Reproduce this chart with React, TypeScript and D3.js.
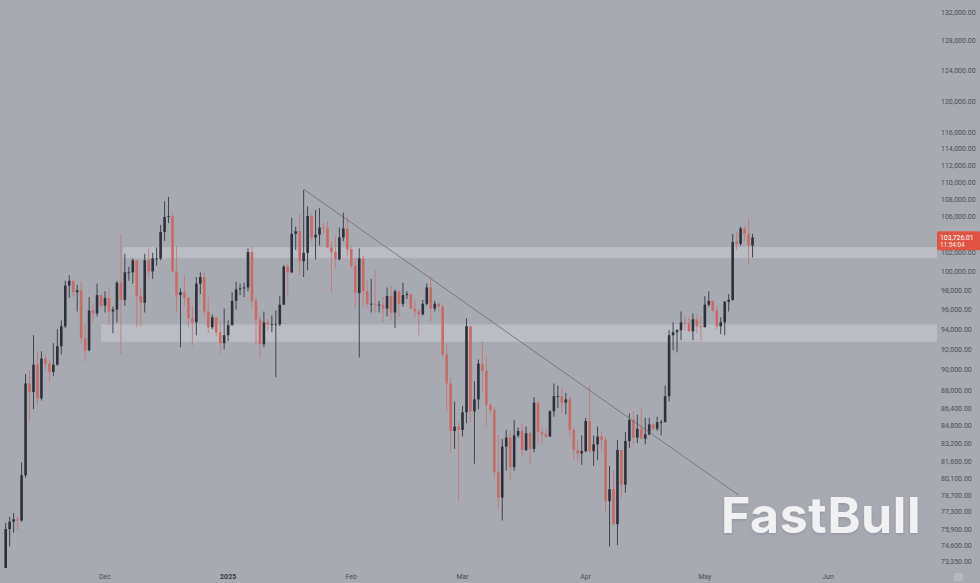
import React from "react";
import * as d3 from "d3";

const W = 980;
const H = 583;

// Daily BTC candles starting 2024-11-06 (values in thousands of USD)
const START_UTC = Date.UTC(2024, 10, 6);
const FIRST_OPEN_K = 69.4;
const closeK = [
  // Nov 6-30
  75.9, 76.5, 76.7, 76.6, 80.4, 88.7, 87.9, 90.5, 87.3, 91.1, 90.6, 89.8, 90.5, 92.3, 94.3, 98.5, 99.0, 97.8, 98.0, 93.1, 91.9, 95.9, 95.6, 97.5, 96.4,
  // Dec
  97.2, 95.8, 96.0, 98.8, 97.0, 99.9, 99.9, 101.2, 97.4, 96.7, 101.2, 100.0, 101.4, 101.4, 104.3, 106.0, 106.1, 100.0, 97.5, 97.8, 97.2, 95.1, 94.7, 98.7, 99.4, 95.8, 94.2, 95.2, 93.7, 92.6, 93.4,
  // Jan
  94.4, 96.9, 98.1, 98.2, 98.3, 102.1, 96.9, 95.0, 92.5, 94.7, 94.5, 94.5, 94.5, 96.5, 100.5, 99.9, 104.1, 104.4, 101.1, 102.0, 106.1, 103.7, 104.0, 104.8, 104.7, 102.6, 102.1, 101.3, 103.7, 104.7, 102.4,
  // Feb
  100.6, 97.7, 101.4, 97.9, 96.6, 96.6, 96.5, 96.5, 96.1, 97.4, 95.7, 97.9, 96.6, 97.5, 97.6, 96.1, 95.8, 95.5, 96.6, 98.3, 96.1, 96.6, 96.3, 91.5, 88.7, 84.3, 84.7, 84.4,
  // Mar
  86.0, 94.3, 86.1, 87.2, 90.6, 89.9, 86.7, 86.2, 80.7, 78.5, 82.9, 83.7, 81.1, 83.9, 84.3, 82.6, 84.1, 82.7, 86.9, 84.2, 84.0, 83.8, 86.1, 87.5, 87.5, 86.9, 87.2, 84.4, 82.6, 82.3, 82.5,
  // Apr
  85.2, 82.5, 83.1, 83.8, 83.5, 78.2, 79.2, 76.3, 82.6, 79.6, 83.4, 85.3, 83.7, 84.5, 83.6, 84.0, 84.9, 84.5, 85.1, 85.1, 87.5, 93.4, 93.7, 93.9, 94.7, 94.6, 93.8, 95.0, 94.3, 94.2,
  // May 1-13
  96.5, 96.9, 95.9, 94.3, 94.7, 96.8, 97.0, 103.2, 103.0, 104.7, 104.1, 102.8, 103.7,
];
const highK = [
  76.4, 76.9, 77.2, 76.9, 81.5, 89.6, 89.9, 93.4, 91.8, 91.8, 91.5, 91.0, 92.6, 94.0, 94.9, 99.0, 99.6, 99.0, 98.6, 98.9, 94.7, 97.3, 96.6, 98.7, 97.5,
  97.9, 98.2, 96.3, 99.0, 104.0, 101.9, 100.5, 101.4, 101.2, 98.2, 101.9, 102.5, 102.0, 102.6, 105.1, 107.8, 108.3, 106.5, 102.8, 98.2, 99.5, 97.3, 96.4, 99.4, 99.9, 99.9, 97.3, 95.5, 95.2, 94.9, 96.1,
  94.9, 97.8, 98.9, 98.7, 98.8, 102.5, 102.7, 97.3, 95.3, 95.8, 95.0, 95.4, 95.9, 97.4, 100.7, 100.8, 105.9, 104.9, 106.3, 109.1, 107.2, 106.3, 106.8, 107.0, 105.3, 105.5, 103.2, 103.8, 104.8, 106.5, 106.0,
  102.8, 101.5, 102.5, 101.7, 99.0, 99.2, 100.1, 96.9, 97.3, 98.3, 98.5, 98.1, 98.0, 98.8, 97.9, 97.7, 97.0, 96.0, 97.0, 98.7, 99.5, 96.9, 96.7, 96.5, 92.5, 89.3, 87.0, 85.1,
  86.6, 95.1, 94.4, 88.9, 91.0, 92.8, 91.3, 86.9, 86.5, 83.9, 83.6, 84.4, 84.3, 85.3, 84.6, 85.0, 84.7, 84.2, 87.4, 87.0, 84.8, 84.5, 86.2, 88.7, 88.5, 88.3, 87.8, 87.5, 84.6, 83.5, 83.9,
  85.5, 88.5, 83.9, 84.7, 84.2, 83.8, 81.2, 80.8, 83.5, 82.6, 84.2, 85.9, 86.1, 85.8, 86.4, 85.5, 85.5, 85.0, 85.6, 85.3, 88.5, 93.9, 94.7, 94.0, 95.8, 95.3, 95.2, 95.6, 95.5, 95.2,
  97.4, 97.9, 96.9, 96.3, 95.2, 96.9, 97.6, 104.1, 104.3, 104.9, 105.0, 105.8, 104.1,
];
const lowK = [
  69.3, 74.5, 75.6, 75.8, 76.5, 80.2, 85.1, 86.3, 86.7, 87.1, 90.0, 88.8, 89.4, 90.4, 91.5, 94.1, 97.2, 97.3, 95.8, 92.6, 90.8, 91.8, 94.7, 95.3, 96.1,
  95.7, 94.4, 93.6, 94.7, 91.5, 96.4, 99.0, 98.7, 94.2, 94.3, 95.7, 99.3, 99.2, 100.6, 101.2, 103.3, 105.3, 99.9, 95.7, 92.2, 96.4, 94.2, 92.4, 93.4, 97.6, 95.2, 93.6, 94.0, 93.3, 91.5, 92.0,
  92.8, 94.4, 96.0, 97.5, 97.3, 97.9, 96.1, 92.5, 91.2, 92.2, 93.8, 93.7, 89.3, 94.3, 96.5, 97.3, 99.8, 102.3, 99.6, 99.4, 100.1, 103.3, 101.3, 102.8, 104.2, 102.5, 97.8, 100.3, 101.2, 103.3, 101.6,
  100.3, 96.2, 91.2, 96.2, 96.2, 95.7, 95.7, 95.7, 94.7, 95.3, 94.9, 94.1, 95.2, 96.3, 97.1, 96.1, 95.2, 93.4, 95.4, 96.4, 94.8, 95.8, 95.7, 91.2, 86.1, 82.3, 82.7, 78.2,
  83.8, 85.0, 85.1, 81.4, 86.3, 87.9, 84.7, 85.8, 80.1, 77.5, 76.6, 80.8, 79.9, 80.8, 83.7, 82.1, 82.5, 81.3, 82.4, 83.2, 83.2, 83.7, 83.8, 85.6, 86.4, 85.9, 85.8, 83.6, 81.7, 81.6, 81.3,
  82.4, 82.3, 81.2, 81.7, 82.4, 77.2, 74.5, 76.2, 74.6, 78.5, 78.9, 82.8, 83.0, 83.2, 83.6, 83.1, 83.9, 84.3, 84.3, 83.9, 85.1, 87.0, 91.9, 91.7, 92.9, 93.9, 93.7, 92.9, 93.6, 92.9,
  94.2, 96.3, 95.7, 94.0, 93.5, 93.4, 95.8, 96.9, 102.3, 102.8, 103.3, 100.8, 101.5,
];

// 104,000.00 sits behind the last-price tag in the reference, so it is not listed
const yTickValues = [
  132000, 128000, 124000, 120000, 116000, 114000, 112000, 110000, 108000, 106000, 102000, 100000,
  98000, 96000, 94000, 92000, 90000, 88000, 86400, 84800, 83200, 81600, 80100, 78700, 77300, 75900, 74600, 73350,
];
const xTickDates = [
  Date.UTC(2024, 11, 1), Date.UTC(2025, 0, 1), Date.UTC(2025, 1, 1), Date.UTC(2025, 2, 1),
  Date.UTC(2025, 3, 1), Date.UTC(2025, 4, 1), Date.UTC(2025, 5, 1),
];
const xTickLabels = ["Dec", "2025", "Feb", "Mar", "Apr", "May", "Jun"];

// Support zones
const bandStart = [Date.UTC(2024, 11, 5, 12), Date.UTC(2024, 10, 30)];
const bandLowK = [101.43, 92.74];
const bandHighK = [102.64, 94.49];

// Trend line
const trendDates = [Date.UTC(2025, 0, 20), Date.UTC(2025, 4, 9, 13)];
const trendPricesK = [109.2, 78.7];

const lastPriceText = "103,726.01";
const lastPriceValue = 103726.01;
const countdownText = "11:54:04";

const BG = "#a8aab2";
const UP = "#2c313b";
const DOWN = "#c86b67";
const PLOT_RIGHT = 937;
const PLOT_BOTTOM = 568;

export default function App() {
  const x = d3
    .scaleUtc()
    .domain([new Date(Date.UTC(2024, 11, 1)), new Date(Date.UTC(2025, 5, 1))])
    .range([105, 828]);
  const y = d3.scaleLog().domain([73350, 132000]).range([561, 12]);

  const candles = closeK.map((c, i) => {
    const open = i === 0 ? FIRST_OPEN_K : closeK[i - 1];
    return {
      date: new Date(START_UTC + i * 86400000),
      o: open * 1000,
      h: highK[i] * 1000,
      l: lowK[i] * 1000,
      c: c * 1000,
    };
  });

  const bodyW = 2.6;
  const fmt = d3.format(",.2f");
  const fontFamily = "Roboto, 'Noto Sans', sans-serif";

  const trendLine = d3.line<[number, number]>()
    .x((d) => x(new Date(d[0])))
    .y((d) => y(d[1] * 1000));
  const trendPts: [number, number][] = trendDates.map((d, i) => [d, trendPricesK[i]]);

  const lpY = y(lastPriceValue);

  return (
    <div style={{ position: "fixed", left: 0, top: 0, width: W, height: H }}>
      <svg width={W} height={H} style={{ display: "block" }}>
        <defs>
          <clipPath id="plot">
            <rect x={0} y={0} width={PLOT_RIGHT} height={PLOT_BOTTOM} />
          </clipPath>
          <filter id="wmshadow" x="-10%" y="-20%" width="120%" height="150%">
            <feDropShadow dx="0" dy="1.5" stdDeviation="1.5" floodColor="#7d8088" floodOpacity="0.5" />
          </filter>
        </defs>
        <rect x={0} y={0} width={W} height={H} fill={BG} />

        <g clipPath="url(#plot)">
          {bandStart.map((s, i) => (
            <rect
              key={"band" + i}
              x={x(new Date(s))}
              y={y(bandHighK[i] * 1000)}
              width={PLOT_RIGHT - x(new Date(s))}
              height={y(bandLowK[i] * 1000) - y(bandHighK[i] * 1000)}
              fill="#bbbdc4"
            />
          ))}

          {candles.map((d, i) => {
            const up = d.c >= d.o;
            const col = up ? UP : DOWN;
            const cx = x(d.date);
            const top = y(Math.max(d.o, d.c));
            const bot = y(Math.min(d.o, d.c));
            return (
              <g key={i}>
                <line x1={cx} x2={cx} y1={y(d.h)} y2={y(d.l)} stroke={col} strokeWidth={0.9} strokeOpacity={up ? 0.95 : 0.8} />
                <rect x={cx - bodyW / 2} y={top} width={bodyW} height={Math.max(0.8, bot - top)} fill={col} />
              </g>
            );
          })}

          <path d={trendLine(trendPts) || ""} stroke="#5f626b" strokeWidth={0.7} fill="none" />
        </g>

        {/* y axis labels */}
        {yTickValues.map((v) => (
          <text key={v} x={941} y={y(v) + 2.5} fontSize={7} fontFamily={fontFamily} fill="#4a4d55">
            {fmt(v)}
          </text>
        ))}

        {/* last price tag */}
        <rect x={937} y={lpY - 6} width={43} height={19} fill="#e05446" rx={1.5} />
        <text x={940} y={lpY + 2.5} fontSize={6.8} fontFamily={fontFamily} fill="#ffffff">
          {lastPriceText}
        </text>
        <text x={940} y={lpY + 10} fontSize={6.4} fontFamily={fontFamily} fill="#ffe8e4">
          {countdownText}
        </text>

        {/* x axis labels */}
        {xTickDates.map((d, i) => (
          <text
            key={d}
            x={x(new Date(d))}
            y={578.5}
            textAnchor="middle"
            fontSize={7}
            fontWeight={i === 1 ? 700 : 400}
            fontFamily={fontFamily}
            fill={i === 1 ? "#33363d" : "#4a4d55"}
          >
            {xTickLabels[i]}
          </text>
        ))}

        {/* small settings icon */}
        <rect x={954} y={573} width={9} height={8} rx={1.5} fill="#b7b9bf" />

        {/* watermark */}
        <text
          x={721}
          y={533}
          fontSize={50}
          fontWeight={700}
          fontFamily="Inter, 'Open Sans', sans-serif"
          fill="#f1f1f3"
          letterSpacing={0.6}
          filter="url(#wmshadow)"
        >
          FastBull
        </text>
      </svg>
    </div>
  );
}
